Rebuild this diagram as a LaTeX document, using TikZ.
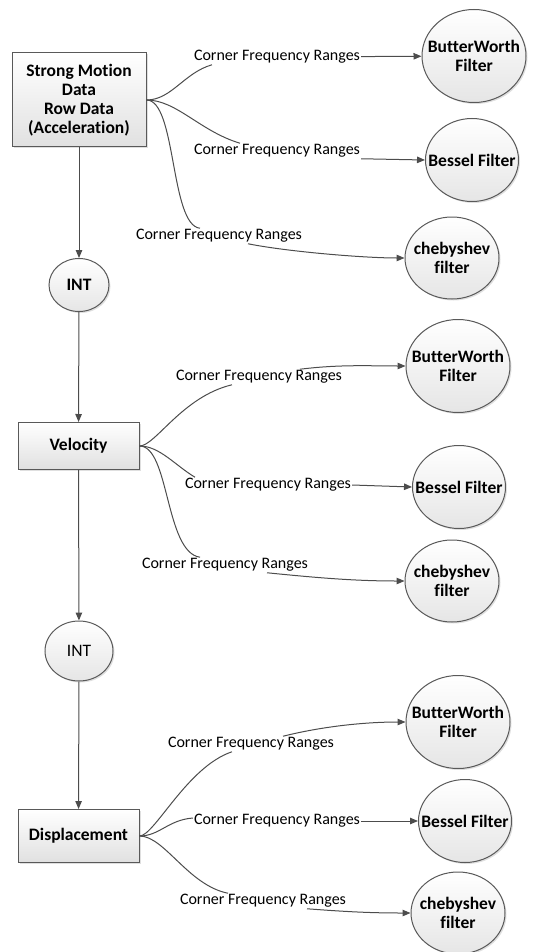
\documentclass[tikz,border=0pt]{standalone}
\usepackage{fontspec}
\setmainfont[Ligatures=NoCommon]{Carlito}
\usetikzlibrary{arrows.meta,shapes.geometric,shadows}

\tikzset{
  soft/.style={drop shadow={opacity=0.25,shadow xshift=1.5pt,shadow yshift=-1.5pt}},
  stage/.style={draw=black!65,line width=1pt,top color=white,bottom color=black!12,
    align=center,inner sep=0pt,soft,font=\bfseries\fontsize{17.5}{19}\selectfont},
  filt/.style={ellipse,draw=black!65,line width=1pt,top color=white,bottom color=black!10,
    align=center,inner sep=-20pt,soft,font=\bfseries\fontsize{17.5}{19}\selectfont},
  integ/.style={filt,font=\fontsize{17.5}{19}\selectfont},
  rng/.style={inner sep=1pt,font=\fontsize{16}{18}\selectfont},
  link/.style={draw=black!70,line width=1pt},
  tip/.style={link,-{Triangle[length=8pt,width=6.5pt]}}
}

\begin{document}
\begin{tikzpicture}[x=1pt,y=-1pt]
  \useasboundingbox (0,0) rectangle (541,952);

  \node[stage,minimum width=134,minimum height=94] (acc) at (79,100) {Strong Motion\\Data\\Row Data\\(Acceleration)};
  \node[integ,font=\bfseries\fontsize{17.5}{19}\selectfont,minimum width=60,minimum height=53] (int1) at (79,285) {INT};
  \node[stage,minimum width=121,minimum height=47] (vel) at (78.5,446) {Velocity};
  \node[integ,minimum width=68,minimum height=60] (int2) at (79,651) {INT};
  \node[stage,minimum width=121,minimum height=53] (dis) at (78.5,836) {Displacement};
  \foreach \a/\b in {acc/int1,int1/vel,vel/int2,int2/dis}
    \draw[tip] (\a) -- (\b);

  % filters
  \foreach \nm/\x/\y in {bw1/474/56,bw2/458/366,bw3/458/722}
    \node[filt,minimum width=104,minimum height=93] (\nm) at (\x,\y) {ButterWorth\\Filter};
  \foreach \nm/\x/\y in {be1/472/160,be2/459/487,be3/465/821}
    \node[filt,minimum width=93,minimum height=83] (\nm) at (\x,\y) {Bessel Filter};
  \foreach \nm/\x/\y in {ch1/452/258,ch2/452/581,ch3/458/913}
    \node[filt,minimum width=94,minimum height=82] (\nm) at (\x,\y) {chebyshev\\filter};
  \foreach \nm/\x/\y in {l1a/277/57,l1b/277/151,l1c/219/236,l2a/259/377,l2b/268/485,l2c/225/565,l3a/251/744,l3b/277/821,l3c/263/901}
    \node[rng] (\nm) at (\x,\y) {Corner Frequency Ranges};

  % acceleration
  \draw[link] (acc.east) .. controls +(25,0) and +(-28,8) .. ([xshift=-65]l1a.south);
  \draw[tip] (l1a) -- (bw1);
  \draw[link] (acc.east) .. controls +(30,0) and +(-40,-12) .. ([xshift=-37]l1b.north);
  \draw[tip] (l1b.south east) -- (be1.west);
  \draw[link] (acc.east) .. controls +(30,0) and +(-30,-3) .. ([xshift=-19]l1c.north);
  \draw[tip] ([xshift=29]l1c.south) .. controls +(40,8) and +(-40,0) .. (ch1.west);

  % velocity
  \draw[link] (vel.east) .. controls +(16,0) and +(-50,12) .. ([xshift=-27]l2a.south);
  \draw[tip] ([xshift=41]l2a.north) .. controls +(40,-5) and +(-35,0) .. (bw2.west);
  \draw[link] (vel.east) .. controls +(20,0) and +(-20,-12) .. ([xshift=-73]l2b.north);
  \draw[tip] (l2b.east) -- (be2.west);
  \draw[link] (vel.east) .. controls +(30,0) and +(-35,-5) .. ([xshift=-25]l2c.north);
  \draw[tip] ([xshift=42]l2c.south) .. controls +(50,5) and +(-50,0) .. (ch2.west);

  % displacement
  \draw[link] (dis.east) .. controls +(15,0) and +(-45,15) .. ([xshift=-19]l3a.south);
  \draw[tip] ([xshift=32]l3a.north) .. controls +(40,-10) and +(-40,0) .. (bw3.west);
  \draw[link] (dis.east) .. controls +(20,0) and +(-25,2) .. ([yshift=3]l3b.west);
  \draw[tip] (l3b) -- (be3);
  \draw[link] (dis.east) .. controls +(25,0) and +(-40,-8) .. ([xshift=-35]l3c.north);
  \draw[tip] ([xshift=44]l3c.south) .. controls +(40,3) and +(-40,0) .. (ch3.west);
\end{tikzpicture}
\end{document}
